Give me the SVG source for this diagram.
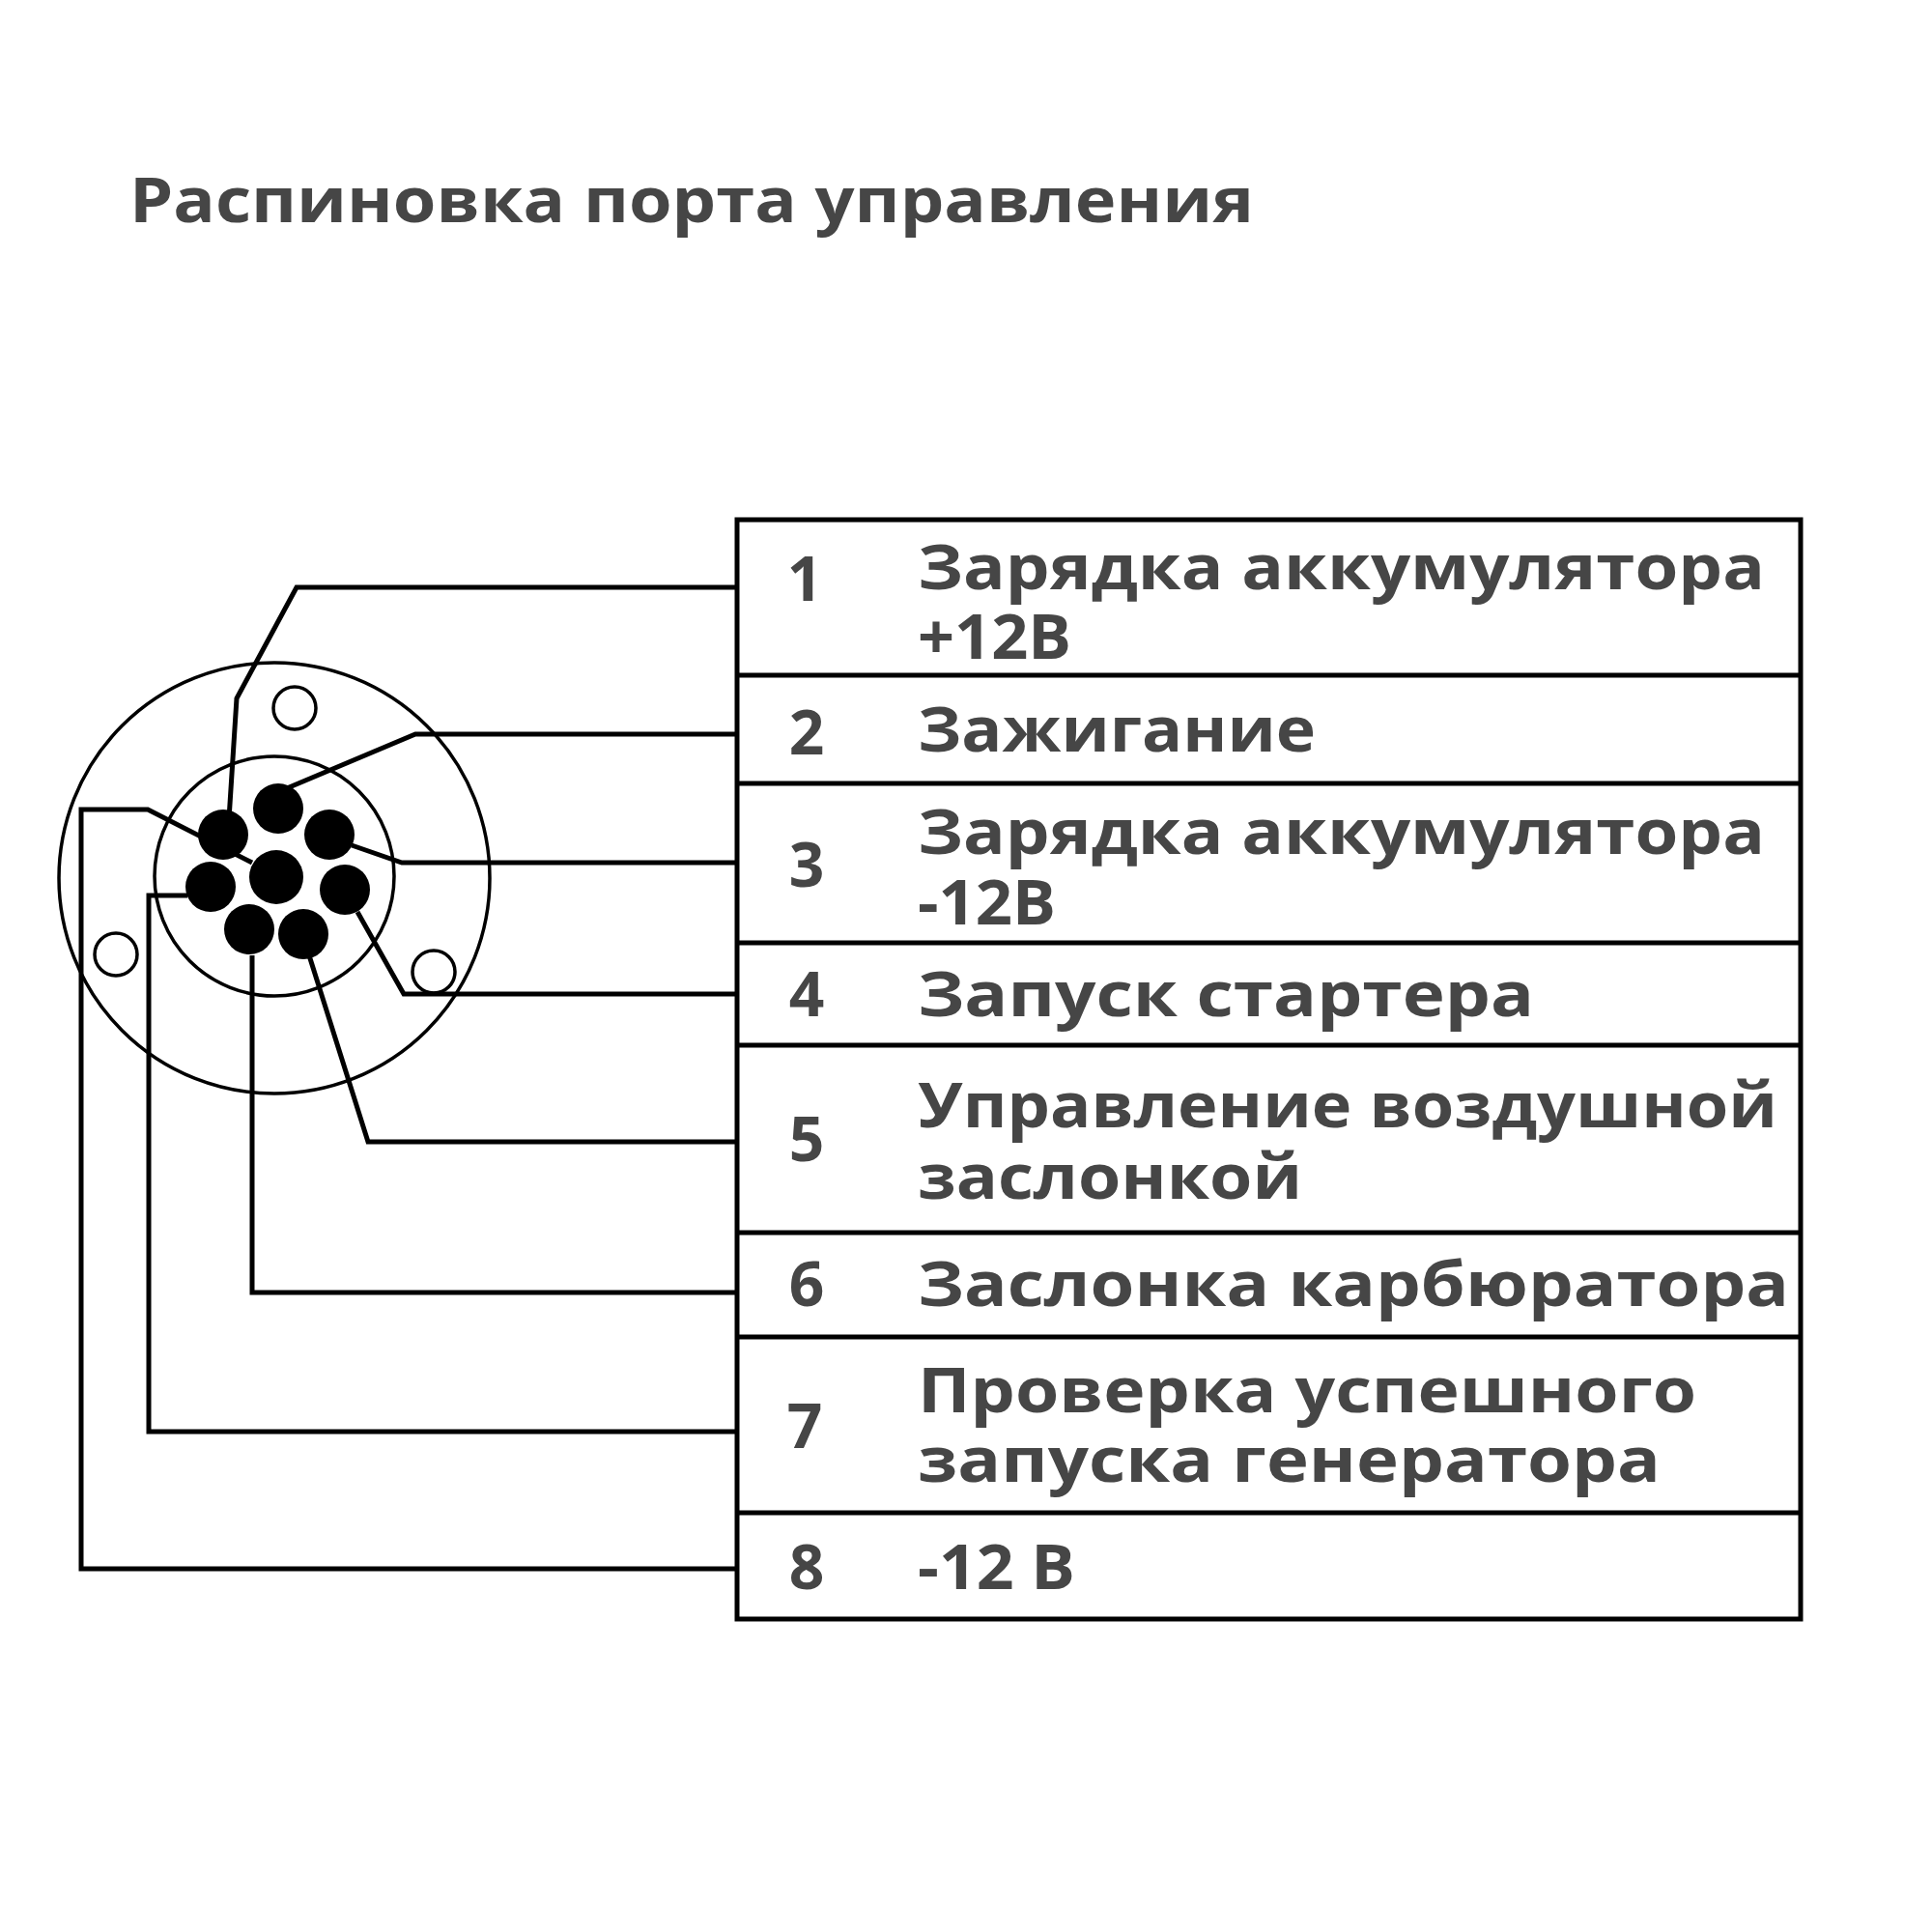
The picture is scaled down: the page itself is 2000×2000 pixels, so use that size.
<svg xmlns="http://www.w3.org/2000/svg" width="2000" height="2000" viewBox="0 0 2000 2000">
<style>
.t{font-family:"Open Sans","Liberation Sans",sans-serif;font-weight:700;fill:#464646;font-size:64px}
.n{font-family:"Open Sans","Liberation Sans",sans-serif;font-weight:700;fill:#464646;font-size:64px;text-anchor:middle}
.w{fill:none;stroke:#000;stroke-width:5;stroke-linejoin:miter}
.c{fill:none;stroke:#000;stroke-width:3.5}
.p{fill:#000}
</style>
<rect width="2000" height="2000" fill="#fff"/>
<text class="t" x="134" y="230" font-size="70" textLength="1164" lengthAdjust="spacingAndGlyphs">Распиновка порта управления</text>
<g id="connector">
<circle class="c" cx="284" cy="909" r="223"/>
<circle class="c" cx="284" cy="907" r="124"/>
<circle class="c" cx="305" cy="733" r="22"/>
<circle class="c" cx="120" cy="988" r="22"/>
<circle class="c" cx="449" cy="1006" r="22"/>
</g>
<g id="connectors">
<polyline class="w" points="237,848 245,723 307,608 763,608"/>
<polyline class="w" points="297,816 430,760 763,760"/>
<polyline class="w" points="364,875 416,893 763,893"/>
<polyline class="w" points="370,944 418,1029 763,1029"/>
<polyline class="w" points="320,989 381,1182 763,1182"/>
<polyline class="w" points="261,989 261,1338 763,1338"/>
<polyline class="w" points="194,927 154,927 154,1482 763,1482"/>
<polyline class="w" points="261,893 153,838 84,838 84,1624 763,1624"/>
</g>
<g id="pins">
<circle class="p" cx="231" cy="864" r="26"/>
<circle class="p" cx="288" cy="837" r="26"/>
<circle class="p" cx="341" cy="864" r="26"/>
<circle class="p" cx="286" cy="908" r="28"/>
<circle class="p" cx="218" cy="918" r="26"/>
<circle class="p" cx="357" cy="921" r="26"/>
<circle class="p" cx="258" cy="962" r="26"/>
<circle class="p" cx="314" cy="967" r="26"/>
</g>
<g id="table">
<rect x="763" y="538" width="1101" height="1138" fill="none" stroke="#000" stroke-width="5"/>
<path d="M763 699H1864M763 811H1864M763 976H1864M763 1082H1864M763 1276H1864M763 1384H1864M763 1566H1864" stroke="#000" stroke-width="5"/>
</g>
<g id="row1"><text class="n" x="833" y="622">1</text><text class="t" x="950" y="610" textLength="877" lengthAdjust="spacingAndGlyphs">Зарядка аккумулятора</text><text class="t" x="950" y="682" textLength="159" lengthAdjust="spacingAndGlyphs">+12В</text></g>
<g id="row2"><text class="n" x="835" y="781">2</text><text class="t" x="950" y="778" textLength="412" lengthAdjust="spacingAndGlyphs">Зажигание</text></g>
<g id="row3"><text class="n" x="835" y="918">3</text><text class="t" x="950" y="884" textLength="877" lengthAdjust="spacingAndGlyphs">Зарядка аккумулятора</text><text class="t" x="950" y="957" textLength="143" lengthAdjust="spacingAndGlyphs">-12В</text></g>
<g id="row4"><text class="n" x="835" y="1052">4</text><text class="t" x="950" y="1052" textLength="638" lengthAdjust="spacingAndGlyphs">Запуск стартера</text></g>
<g id="row5"><text class="n" x="835" y="1202">5</text><text class="t" x="950" y="1167" textLength="890" lengthAdjust="spacingAndGlyphs">Управление воздушной</text><text class="t" x="950" y="1241" textLength="398" lengthAdjust="spacingAndGlyphs">заслонкой</text></g>
<g id="row6"><text class="n" x="835" y="1352">6</text><text class="t" x="950" y="1352" textLength="902" lengthAdjust="spacingAndGlyphs">Заслонка карбюратора</text></g>
<g id="row7"><text class="n" x="833" y="1499">7</text><text class="t" x="950" y="1462" textLength="806" lengthAdjust="spacingAndGlyphs">Проверка успешного</text><text class="t" x="950" y="1534" textLength="769" lengthAdjust="spacingAndGlyphs">запуска генератора</text></g>
<g id="row8"><text class="n" x="835" y="1645">8</text><text class="t" x="950" y="1645" textLength="163" lengthAdjust="spacingAndGlyphs">-12 В</text></g>
</svg>
